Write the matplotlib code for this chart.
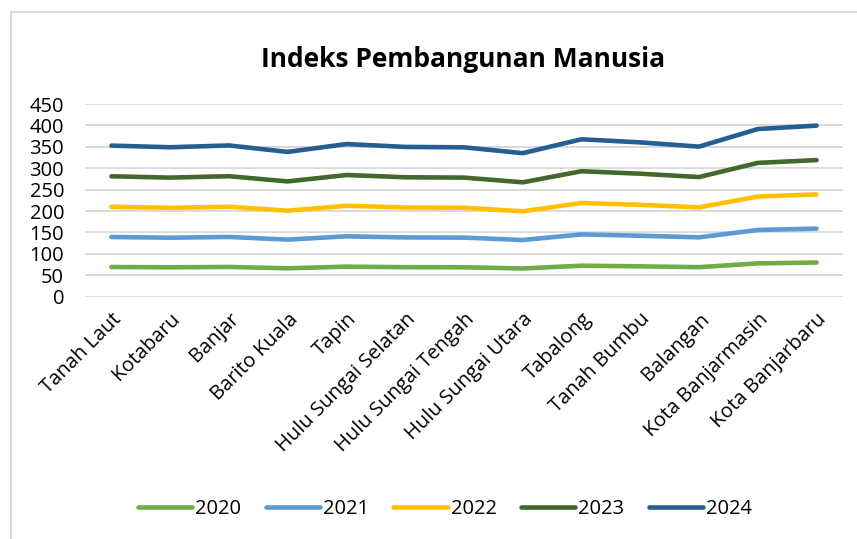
import matplotlib.pyplot as plt
import numpy as np
from matplotlib.lines import Line2D

plt.rcParams["font.family"] = ["Open Sans", "DejaVu Sans"]

regions = [
    "Tanah Laut", "Kotabaru", "Banjar", "Barito Kuala", "Tapin",
    "Hulu Sungai Selatan", "Hulu Sungai Tengah", "Hulu Sungai Utara",
    "Tabalong", "Tanah Bumbu", "Balangan", "Kota Banjarmasin", "Kota Banjarbaru",
]
years = ["2020", "2021", "2022", "2023", "2024"]

# IPM per year (Excel stacked line: each series drawn on top of the previous)
ipm_2020 = [69.4, 68.6, 69.5, 66.3, 70.2, 68.9, 68.7, 65.9, 72.4, 70.9, 69.0, 77.8, 79.8]
ipm_2021 = [70.0, 69.2, 70.0, 67.0, 70.8, 69.5, 69.3, 66.5, 73.0, 71.5, 69.6, 78.0, 79.3]
ipm_2022 = [70.6, 69.8, 70.6, 67.6, 71.3, 70.0, 69.8, 67.0, 73.5, 72.1, 70.1, 78.1, 79.9]
ipm_2023 = [71.2, 70.5, 71.3, 68.3, 71.9, 70.5, 70.3, 67.7, 74.1, 72.7, 70.7, 78.6, 80.0]
ipm_2024 = [71.6, 70.9, 71.8, 68.9, 72.3, 70.9, 70.7, 68.1, 74.6, 73.2, 71.1, 79.0, 80.5]

colors = ["#70AD47", "#5B9BD5", "#FFC000", "#43682B", "#255E91"]

series = np.array([ipm_2020, ipm_2021, ipm_2022, ipm_2023, ipm_2024])
stacked = np.cumsum(series, axis=0)
x = np.arange(len(regions))

fig = plt.figure(figsize=(8.57, 5.39), dpi=100)
ax = fig.add_axes([85 / 857, 1 - 296.7 / 539, 758 / 857, 192.7 / 539])

for values, color, year in zip(stacked, colors, years):
    ax.plot(x, values, color=color, linewidth=3.3, solid_capstyle="round",
            solid_joinstyle="round", label=year, zorder=3)

ax.set_xlim(-0.45, len(regions) - 0.55)
ax.set_ylim(0, 450)
ax.set_yticks(np.arange(0, 451, 50))
ax.yaxis.grid(True, color="#D9D9D9", linewidth=1.4)
ax.set_axisbelow(True)
for side in ["top", "right", "bottom", "left"]:
    ax.spines[side].set_visible(False)
ax.tick_params(axis="y", length=0, pad=15, labelsize=14.5)
ax.tick_params(axis="x", length=0, pad=9, labelsize=14.5)
ax.set_xticks(x)
ax.set_xticklabels(regions, rotation=45, ha="right", va="top", rotation_mode="anchor")

fig.suptitle("Indeks Pembangunan Manusia", x=463 / 857, y=1 - 60 / 539,
             va="center", fontsize=19, fontweight="bold")

handles = [Line2D([0], [0], color=c, linewidth=3.3, solid_capstyle="round") for c in colors]
fig.legend(handles, years, loc="center", bbox_to_anchor=(445 / 857, 1 - 509 / 539),
           ncol=5, frameon=False, fontsize=14.5, handlelength=2.7,
           handletextpad=0.15, columnspacing=1.2)

# chart area border (left and top visible in the crop)
fig.add_artist(Line2D([11 / 857, 11 / 857], [0, 1 - 12 / 539], color="#D9D9D9", linewidth=1.4))
fig.add_artist(Line2D([11 / 857, 1], [1 - 12 / 539, 1 - 12 / 539], color="#D9D9D9", linewidth=1.4))

fig.savefig("out.png", dpi=100)
